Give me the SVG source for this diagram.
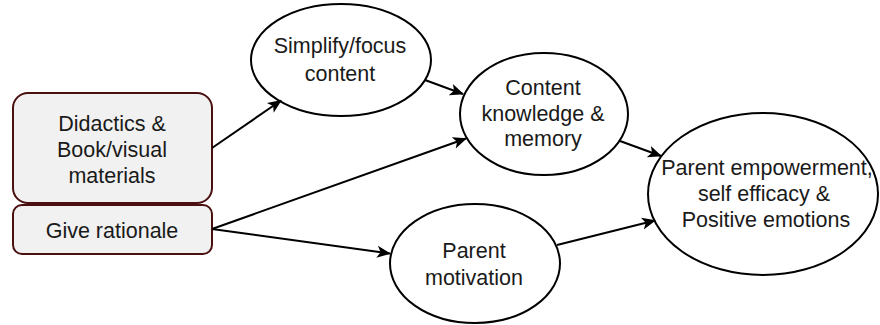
<svg xmlns="http://www.w3.org/2000/svg" width="880" height="325" viewBox="0 0 880 325">
  <style>
    .box { fill: #f1f1f1; stroke: #4a1010; stroke-width: 2; }
    .oval { fill: #ffffff; stroke: #000000; stroke-width: 2; }
    .label { font-family: "Liberation Sans", Arial, sans-serif; font-size: 21.5px; fill: #1a1a1a; text-anchor: middle; }
    .edge { fill: none; stroke: #000000; stroke-width: 2; marker-end: url(#arrow); }
  </style>
  <defs>
    <marker id="arrow" markerUnits="userSpaceOnUse" markerWidth="16" markerHeight="14" refX="13" refY="6.5" orient="auto" overflow="visible">
      <path d="M0,0.5 L14,6.5 L0,12.5 L3.5,6.5 Z" fill="#000000"/>
    </marker>
  </defs>
  <rect width="880" height="325" fill="#ffffff"/>

  <g id="didactics">
    <rect class="box" x="13" y="93" width="199" height="110" rx="15" ry="15"/>
    <text class="label" x="112" y="131">Didactics &amp;</text>
    <text class="label" x="112" y="157">Book/visual</text>
    <text class="label" x="112" y="183">materials</text>
  </g>

  <g id="rationale">
    <rect class="box" x="13" y="205" width="199" height="49" rx="9" ry="9"/>
    <text class="label" x="112" y="237.5">Give rationale</text>
  </g>

  <g id="simplify">
    <ellipse class="oval" cx="341" cy="60" rx="90" ry="56"/>
    <text class="label" x="340" y="53">Simplify/focus</text>
    <text class="label" x="340" y="81">content</text>
  </g>

  <g id="knowledge">
    <ellipse class="oval" cx="544" cy="114" rx="84" ry="61"/>
    <text class="label" x="543" y="95">Content</text>
    <text class="label" x="543" y="121">knowledge &amp;</text>
    <text class="label" x="543" y="146">memory</text>
  </g>

  <g id="motivation">
    <ellipse class="oval" cx="475" cy="263.5" rx="85" ry="59.5"/>
    <text class="label" x="474" y="258">Parent</text>
    <text class="label" x="474" y="285">motivation</text>
  </g>

  <g id="empowerment">
    <ellipse class="oval" cx="763" cy="194" rx="115" ry="81"/>
    <text class="label" x="767" y="175">Parent empowerment,</text>
    <text class="label" x="764" y="201">self efficacy &amp;</text>
    <text class="label" x="766" y="227">Positive emotions</text>
  </g>

  <g id="connectors">
    <line class="edge" x1="212" y1="148" x2="281" y2="100.5"/>
    <line class="edge" x1="425" y1="80" x2="463" y2="94"/>
    <line class="edge" x1="212" y1="229" x2="466" y2="138.5"/>
    <line class="edge" x1="212" y1="229" x2="390" y2="253.5"/>
    <line class="edge" x1="620" y1="141" x2="661" y2="156"/>
    <line class="edge" x1="557" y1="245" x2="655" y2="220.5"/>
  </g>
</svg>
